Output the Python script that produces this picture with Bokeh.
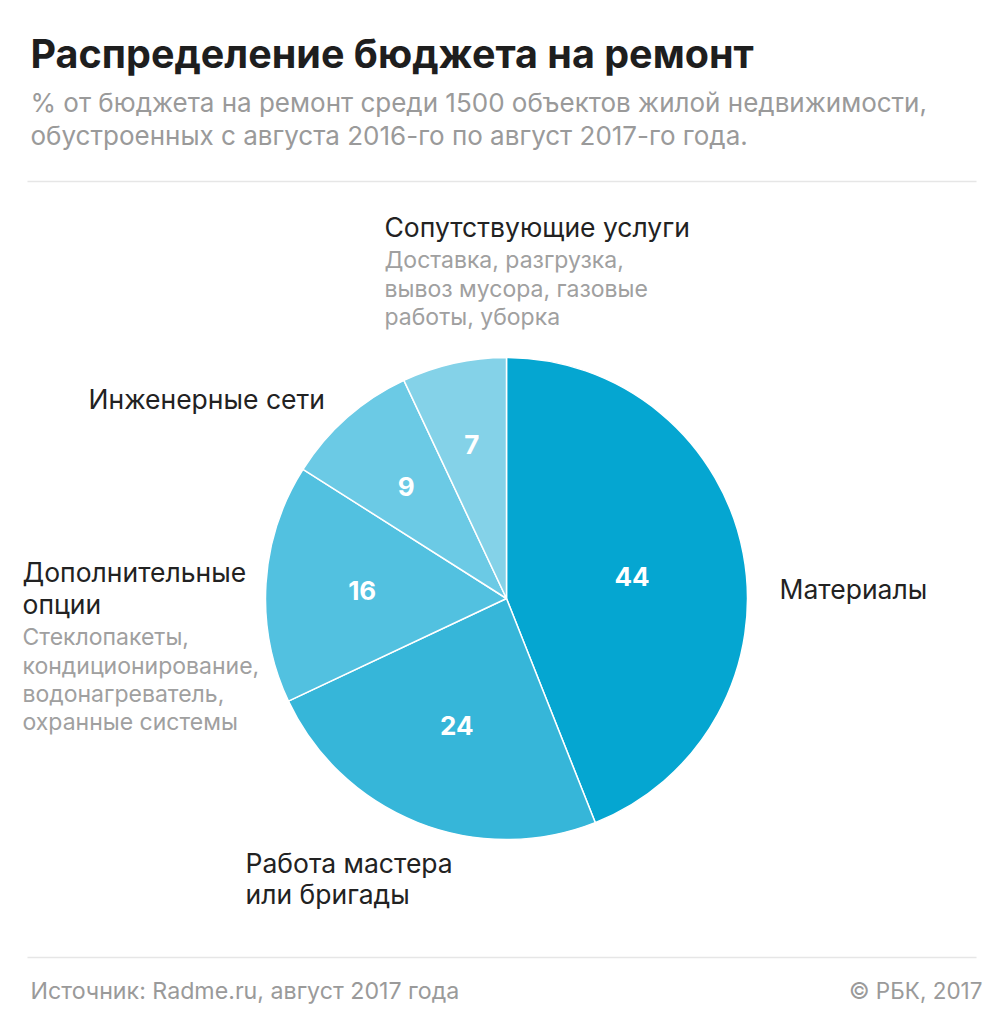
import math
from bokeh.plotting import figure
from bokeh.models import ColumnDataSource, Range1d
from bokeh.core.properties import value
from bokeh.embed import file_html
from bokeh.resources import INLINE

# ---- data ----
categories = ["Материалы", "Работа мастера или бригады", "Дополнительные опции",
              "Инженерные сети", "Сопутствующие услуги"]
shares = [44, 24, 16, 9, 7]
colors = ["#05a6d1", "#36b6d9", "#52c1e0", "#6bcae5", "#84d2e8"]
label_r = [0.53, 0.56, 0.60, 0.63, 0.66]

title = "Распределение бюджета на ремонт"
subtitle = ["% от бюджета на ремонт среди 1500 объектов жилой недвижимости,",
            "обустроенных с августа 2016-го по август 2017-го года."]
source_text = "Источник: Radme.ru, август 2017 года"
copyright_text = "© РБК, 2017"

W, H = 989, 1011
FONT = "Inter"

def X(px):
    return px

def Y(py):          # shapes
    return H - py

def Yt(py):         # text baselines
    return H - (py - 8)

p = figure(width=W, height=H, output_backend="svg", toolbar_location=None,
           x_range=Range1d(0, W), y_range=Range1d(0, H), min_border=0)
p.axis.visible = False
p.grid.visible = False
p.outline_line_color = None
p.background_fill_color = "white"
p.border_fill_color = "white"

# ---- pie ----
cx, cy, R = X(506), Y(598), 241
total = sum(shares)
starts, ends, mids = [], [], []
cum = 0
for s in shares:
    a0 = math.pi / 2 - 2 * math.pi * cum / total
    cum += s
    a1 = math.pi / 2 - 2 * math.pi * cum / total
    starts.append(a0)
    ends.append(a1)
    mids.append((a0 + a1) / 2)

src = ColumnDataSource(dict(start=starts, end=ends, color=colors,
                            x=[cx] * len(shares), y=[cy] * len(shares)))
p.wedge(x="x", y="y", radius=R, start_angle="start", end_angle="end",
        direction="clock", fill_color="color", line_color="white",
        line_width=1.5, source=src)

lx = [cx + f * R * math.cos(m) for f, m in zip(label_r, mids)]
ly = [cy + f * R * math.sin(m) for f, m in zip(label_r, mids)]
p.text(x=lx, y=[v - 1.5 for v in ly], text=[str(s) for s in shares],
       text_color="white", text_font=value(FONT), text_font_style="bold",
       text_font_size="26px", text_align="center", text_baseline="alphabetic")

# ---- title / subtitle ----
p.text(x=[X(30)], y=[Yt(61)], text=[title], text_color="#1e1e1e",
       text_font=value(FONT), text_font_style="bold", text_font_size="39.5px",
       text_baseline="alphabetic")
p.text(x=[X(30)] * 2, y=[Yt(110), Yt(143)], text=subtitle, text_color="#9a9a9a",
       text_font=value(FONT), text_font_size="26px", text_baseline="alphabetic")

# separators
p.segment(x0=[X(27), X(27)], x1=[X(976), X(976)], y0=[Y(181), Y(957)],
          y1=[Y(181), Y(957)], line_color="#e6e6e6", line_width=1.5)

# footer
p.text(x=[X(30)], y=[Yt(998)], text=[source_text], text_color="#9a9a9a",
       text_font=value(FONT), text_font_size="23.2px", text_baseline="alphabetic")
p.text(x=[X(982)], y=[Yt(998)], text=[copyright_text], text_color="#9a9a9a",
       text_font=value(FONT), text_font_size="22.5px", text_baseline="alphabetic",
       text_align="right")

# ---- category labels ----
black = "#222222"
gray = "#a0a0a0"
def lbl(x, ys, lines, color, size):
    p.text(x=[X(x)] * len(lines), y=[Yt(v) for v in ys], text=lines,
           text_color=color, text_font=value(FONT), text_font_size=size,
           text_baseline="alphabetic")

lbl(384, [234], ["Сопутствующие услуги"], black, "26.5px")
lbl(384, [267, 296, 324], ["Доставка, разгрузка,", "вывоз мусора, газовые",
                           "работы, уборка"], gray, "23px")
lbl(88, [406], ["Инженерные сети"], black, "26.5px")
lbl(22, [579, 611], ["Дополнительные", "опции"], black, "26.5px")
lbl(22, [644, 673, 701, 729], ["Стеклопакеты,", "кондиционирование,",
                               "водонагреватель,", "охранные системы"], gray, "23px")
lbl(779, [596], ["Материалы"], black, "26.5px")
lbl(245, [870, 901], ["Работа мастера", "или бригады"], black, "26.5px")

open("out.html", "w").write(file_html(p, INLINE))
